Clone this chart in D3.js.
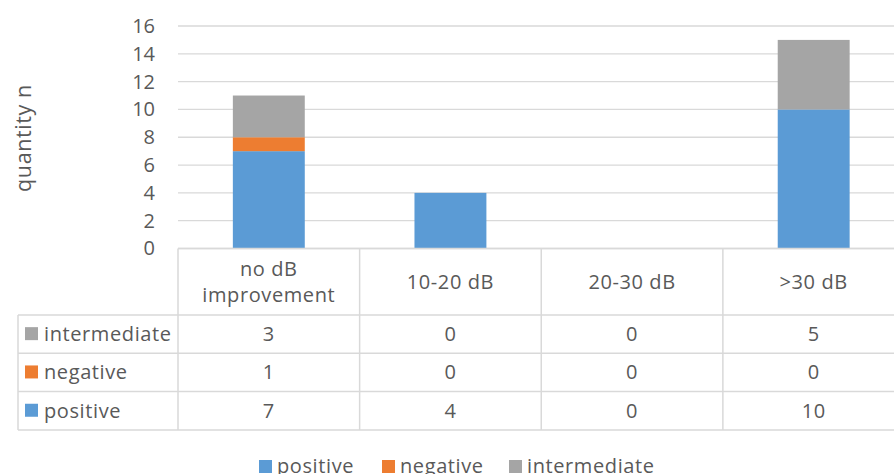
<!DOCTYPE html>
<html>
<head>
<meta charset="utf-8">
<script src="https://cdn.jsdelivr.net/npm/d3@7"></script>
<style>
  html, body { margin: 0; padding: 0; background: #fff; }
  svg { display: block; font-family: "Open Sans", "Noto Sans", sans-serif; }
</style>
</head>
<body>
<svg id="chart" width="894" height="474"></svg>
<script>
// Outcome counts per hearing-improvement group
const categories = ["no dB\nimprovement", "10-20 dB", "20-30 dB", ">30 dB"];
const seriesNames = ["positive", "negative", "intermediate"];
const positive = [7, 4, 0, 10];
const negative = [1, 0, 0, 0];
const intermediate = [3, 0, 0, 5];
const yTicks = [0, 2, 4, 6, 8, 10, 12, 14, 16];
const colors = ["#5b9bd5", "#ed7d31", "#a5a5a5"];

const seriesValues = { positive, negative, intermediate };
const rows = categories.map((c, i) => ({
  cat: c, positive: positive[i], negative: negative[i], intermediate: intermediate[i]
}));

const svg = d3.select("#chart");
const textColor = "#595959";
const lineColor = "#d9d9d9";
const fontSize = 20;
const spacing = "0.6px";

const plotLeft = 178, plotRight = 904.5;
const x = d3.scaleBand().domain(categories).range([plotLeft, plotRight]).padding(0);
const y = d3.scaleLinear().domain([0, 16]).range([248.5, 26]);
const color = d3.scaleOrdinal().domain(seriesNames).range(colors);

// Horizontal gridlines
svg.append("g").selectAll("line").data(yTicks).join("line")
  .attr("x1", plotLeft).attr("x2", plotRight)
  .attr("y1", d => y(d)).attr("y2", d => y(d))
  .attr("stroke", lineColor).attr("stroke-width", 1.3);

// Y axis tick labels
const yAxis = d3.axisLeft(y).tickValues(yTicks).tickSize(0).tickPadding(0);
const yg = svg.append("g").attr("transform", "translate(155,0)").call(yAxis);
yg.select(".domain").remove();
yg.selectAll("text").attr("fill", textColor).attr("font-size", fontSize)
  .attr("font-family", "'Open Sans', sans-serif");

// Y axis title
svg.append("text")
  .attr("transform", "translate(31,138) rotate(-90)")
  .attr("text-anchor", "middle")
  .attr("fill", textColor).attr("font-size", 21.5)
  .attr("letter-spacing", spacing)
  .text("quantity n");

// Stacked bars
const stack = d3.stack().keys(seriesNames)(rows);
const barW = x.bandwidth() * 0.396;
svg.append("g").selectAll("g").data(stack).join("g")
  .attr("fill", d => color(d.key))
  .selectAll("rect").data(d => d).join("rect")
  .attr("x", d => x(d.data.cat) + (x.bandwidth() - barW) / 2)
  .attr("width", barW)
  .attr("y", d => y(d[1]))
  .attr("height", d => y(d[0]) - y(d[1]));

// Data table under the plot
const tableLeft = 18;
const headerTop = y(0), headerBottom = 315;
const rowOrder = ["intermediate", "negative", "positive"];
const rowH = 38.3;
const rowY = d3.scaleBand().domain(rowOrder).range([headerBottom, headerBottom + rowH * 3]);
const tableBottom = headerBottom + rowH * 3;

const tg = svg.append("g");
// horizontal rules
tg.append("line").attr("x1", plotLeft).attr("x2", plotRight)
  .attr("y1", headerTop).attr("y2", headerTop)
  .attr("stroke", lineColor).attr("stroke-width", 1.5);
[headerBottom, ...rowOrder.map(r => rowY(r) + rowY.bandwidth())].forEach(yy => {
  tg.append("line").attr("x1", tableLeft).attr("x2", plotRight)
    .attr("y1", yy).attr("y2", yy)
    .attr("stroke", lineColor).attr("stroke-width", 1.5);
});
// vertical rules
tg.append("line").attr("x1", tableLeft).attr("x2", tableLeft)
  .attr("y1", headerBottom).attr("y2", tableBottom)
  .attr("stroke", lineColor).attr("stroke-width", 1.5);
categories.concat([null]).forEach(c => {
  const xx = c === null ? plotRight : x(c);
  tg.append("line").attr("x1", xx).attr("x2", xx)
    .attr("y1", headerTop).attr("y2", tableBottom)
    .attr("stroke", lineColor).attr("stroke-width", 1.5);
});

// header labels
categories.forEach(c => {
  const lines = c.split("\n");
  const cx = x(c) + x.bandwidth() / 2;
  const midY = (headerTop + headerBottom) / 2;
  const lh = 26;
  lines.forEach((ln, k) => {
    tg.append("text")
      .attr("x", cx)
      .attr("y", midY + (k - (lines.length - 1) / 2) * lh)
      .attr("dy", "0.35em")
      .attr("text-anchor", "middle")
      .attr("fill", textColor).attr("font-size", fontSize)
      .attr("letter-spacing", spacing)
      .text(ln);
  });
});

// row labels with key squares, and values
rowOrder.forEach(r => {
  const cy = rowY(r) + rowY.bandwidth() / 2;
  tg.append("rect").attr("x", 25).attr("y", cy - 7).attr("width", 13).attr("height", 13)
    .attr("fill", color(r));
  tg.append("text").attr("x", 44).attr("y", cy).attr("dy", "0.35em")
    .attr("fill", textColor).attr("font-size", fontSize)
    .attr("letter-spacing", spacing).text(r);
  seriesValues[r].forEach((v, i) => {
    tg.append("text")
      .attr("x", x(categories[i]) + x.bandwidth() / 2)
      .attr("y", cy).attr("dy", "0.35em")
      .attr("text-anchor", "middle")
      .attr("fill", textColor).attr("font-size", fontSize)
      .attr("letter-spacing", spacing)
      .text(v);
  });
});

// Bottom legend
const legendItems = [
  { key: "positive", x: 259 },
  { key: "negative", x: 382 },
  { key: "intermediate", x: 509 }
];
const lg = svg.append("g");
legendItems.forEach(it => {
  lg.append("rect").attr("x", it.x).attr("y", 460).attr("width", 13).attr("height", 13)
    .attr("fill", color(it.key));
  lg.append("text").attr("x", it.x + 18).attr("y", 466).attr("dy", "0.35em")
    .attr("fill", textColor).attr("font-size", fontSize)
    .attr("letter-spacing", spacing).text(it.key);
});
</script>
</body>
</html>
